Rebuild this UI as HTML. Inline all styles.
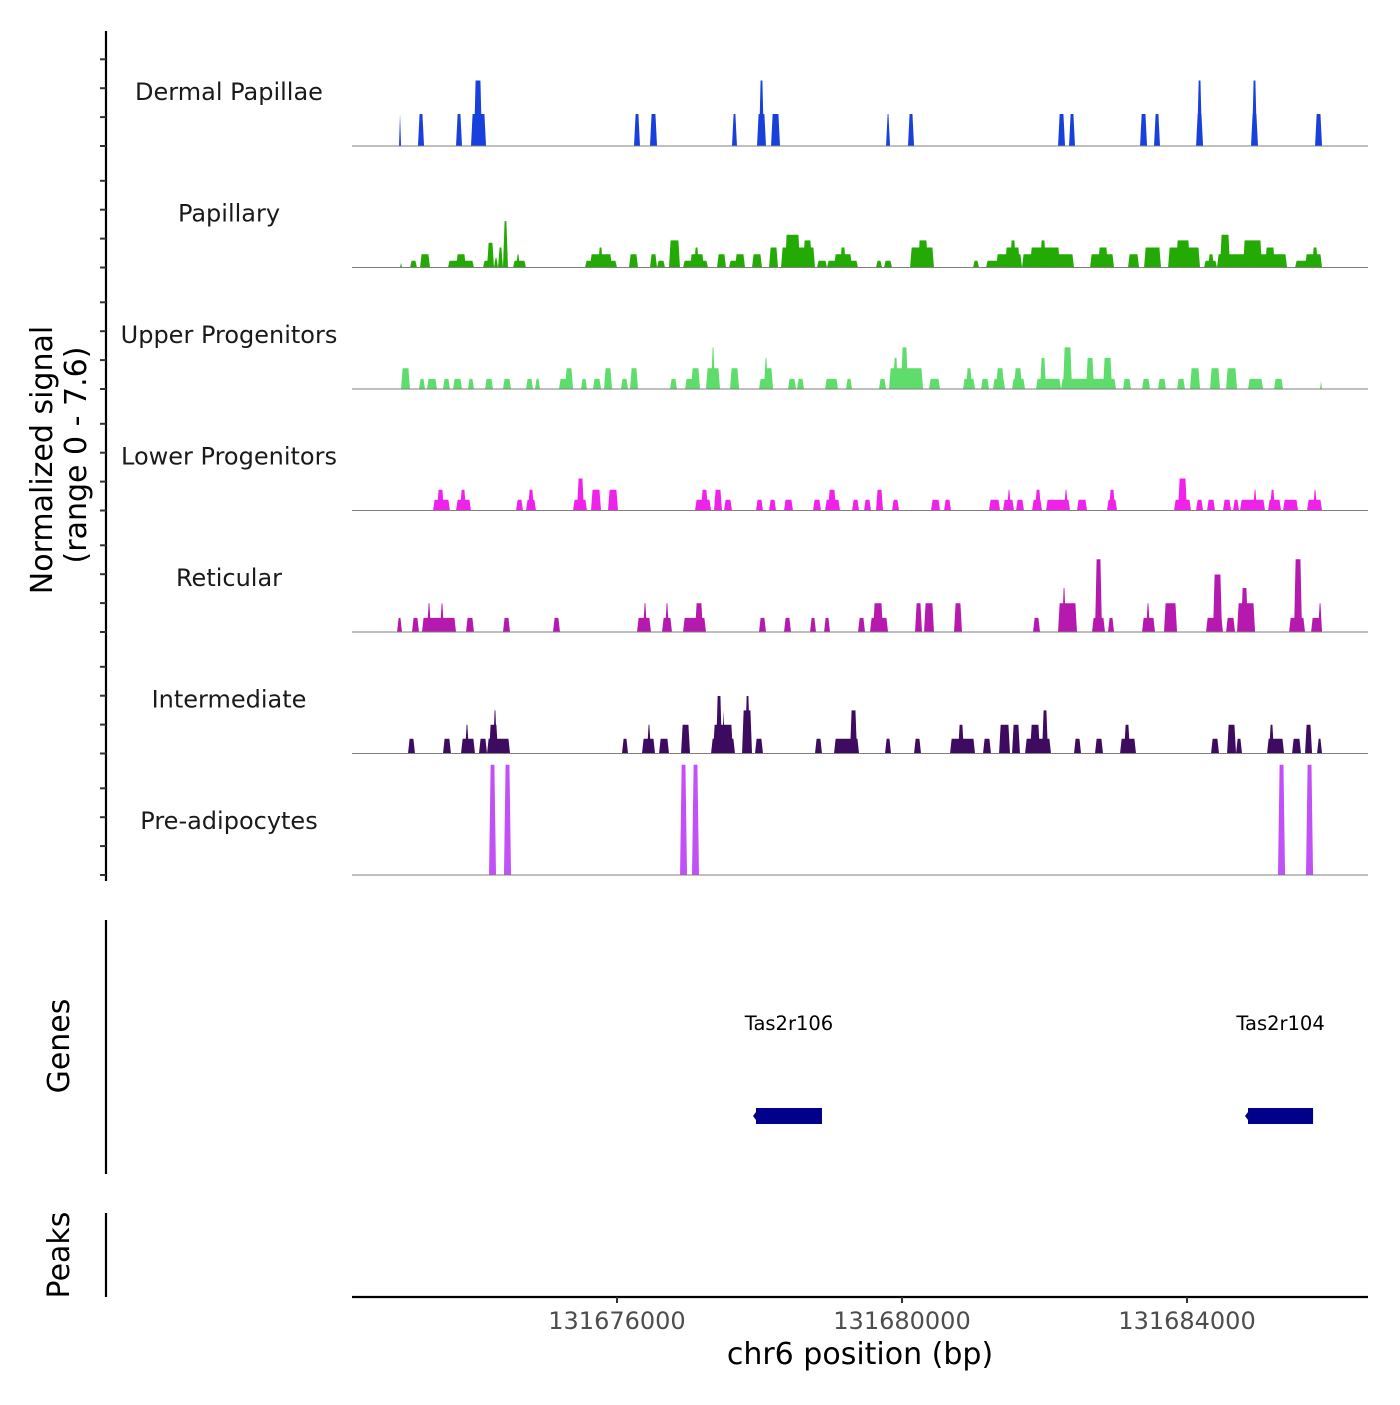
<!DOCTYPE html>
<html><head><meta charset="utf-8"><style>
html,body{margin:0;padding:0;background:#fff;}
svg text{font-family:"DejaVu Sans","Liberation Sans",sans-serif;}
</style></head><body>
<svg id="chart" width="1400" height="1400" viewBox="0 0 1400 1400" xmlns="http://www.w3.org/2000/svg">
<g id="axes">
<line x1="106" y1="31" x2="106" y2="881" stroke="#000" stroke-width="2.2"/>
<line x1="106" y1="920" x2="106" y2="1174" stroke="#000" stroke-width="2.2"/>
<line x1="106" y1="1213" x2="106" y2="1297" stroke="#000" stroke-width="2.2"/>
<line x1="352" y1="1297" x2="1368" y2="1297" stroke="#000" stroke-width="2.2"/>
<text transform="translate(52,460) rotate(-90)" text-anchor="middle" font-size="30" fill="#000">Normalized signal</text>
<text transform="translate(86,455) rotate(-90)" text-anchor="middle" font-size="30" fill="#000">(range 0 - 7.6)</text>
<text transform="translate(69,1046) rotate(-90)" text-anchor="middle" font-size="30" fill="#000">Genes</text>
<text transform="translate(69,1255) rotate(-90)" text-anchor="middle" font-size="30" fill="#000">Peaks</text>
<text x="860" y="1364" text-anchor="middle" font-size="30" fill="#000">chr6 position (bp)</text>
</g>
<g id="tracks"></g>
<g id="genes"></g>
<g id="xticks"></g>
</svg>
<script>
const trackNames = ["Dermal Papillae","Papillary","Upper Progenitors","Lower Progenitors","Reticular","Intermediate","Pre-adipocytes"];
const trackColors = ["#1740dc","#23aa05","#5edc6c","#ef22e9","#b619ad","#3d0b60","#c250f7"];
const xTicks = [131676000,131680000,131684000];
const xTickLabels = ["131676000","131680000","131684000"];
const geneNames = ["Tas2r106","Tas2r104"];
const geneStarts = [131677951,131684856];
const geneEnds = [131678877,131685769];
const dpPeaks = [[131672941,131672969,2.0],[131673207,131673292,2.0],[131673741,131673825,2.0],[131673951,131674162,2.0],[131673993,131674106,4.1],[131676239,131676323,2.0],[131676463,131676562,2.0],[131677614,131677684,2.0],[131677965,131678091,2.0],[131677993,131678063,4.1],[131678162,131678288,2.0],[131679776,131679832,2.0],[131680084,131680169,2.0],[131682190,131682288,2.0],[131682344,131682428,2.0],[131683341,131683439,2.0],[131683537,131683621,2.0],[131684127,131684225,2.0],[131684141,131684211,4.1],[131684898,131684996,2.0],[131684912,131684982,4.1],[131685797,131685895,2.0]];
const papPeaks = [[131672955,131672983,0.3],[131673095,131673193,0.42],[131673235,131673376,0.83],[131673628,131673993,0.42],[131673741,131673881,0.83],[131674120,131674218,0.42],[131674176,131674274,1.55],[131674274,131674330,0.6],[131674330,131674400,1.25],[131674400,131674470,2.9],[131674541,131674723,0.42],[131674583,131674639,0.83],[131675551,131676000,0.42],[131675621,131675930,0.83],[131675734,131675804,1.25],[131676169,131676295,0.83],[131676463,131676562,0.83],[131676562,131676674,0.42],[131676730,131676884,1.7],[131676927,131677277,0.42],[131677025,131677221,0.83],[131677081,131677151,1.25],[131677404,131677530,0.83],[131677572,131677797,0.42],[131677656,131677797,0.83],[131677895,131678035,0.83],[131678134,131678260,1.25],[131678302,131678779,1.25],[131678358,131678569,2.05],[131678611,131678737,1.7],[131678807,131678948,0.42],[131678948,131679383,0.42],[131679046,131679299,0.83],[131679130,131679214,1.25],[131679635,131679720,0.42],[131679748,131679860,0.42],[131680113,131680449,1.25],[131680225,131680365,1.7],[131680997,131681081,0.42],[131681179,131681684,0.42],[131681320,131681684,0.83],[131681446,131681656,1.25],[131681516,131681600,1.7],[131681684,131682414,0.83],[131681797,131682218,1.25],[131681937,131682021,1.7],[131682639,131682976,0.83],[131682751,131682891,1.25],[131683172,131683327,0.83],[131683397,131683635,1.25],[131683734,131684183,1.25],[131683846,131684042,1.7],[131684239,131684421,0.42],[131684295,131684379,0.83],[131684421,131685404,0.83],[131684463,131684604,2.05],[131684786,131685053,1.7],[131685095,131685235,1.25],[131685516,131685895,0.42],[131685656,131685895,0.83],[131685755,131685839,1.25]];
const upPeaks = [[131672969,131673095,1.3],[131673221,131673306,0.63],[131673334,131673474,0.63],[131673558,131673656,0.63],[131673699,131673825,0.63],[131673909,131673993,0.63],[131674148,131674260,0.63],[131674400,131674513,0.63],[131674723,131674821,0.63],[131674849,131674920,0.63],[131675186,131675383,0.63],[131675270,131675383,1.3],[131675495,131675579,0.63],[131675663,131675776,0.63],[131675818,131675930,1.3],[131676056,131676155,0.63],[131676183,131676295,1.3],[131676744,131676842,0.63],[131676955,131677165,0.63],[131677039,131677165,1.3],[131677249,131677446,1.3],[131677320,131677376,2.6],[131677586,131677713,1.3],[131677993,131678190,0.63],[131678077,131678190,1.3],[131678063,131678119,1.95],[131678400,131678513,0.63],[131678527,131678625,0.63],[131678920,131679102,0.63],[131679214,131679299,0.63],[131679677,131679776,0.63],[131679818,131680295,1.3],[131679874,131679944,1.95],[131679986,131680084,2.6],[131680379,131680534,0.63],[131680856,131681025,0.63],[131680898,131680983,1.3],[131681109,131681221,0.63],[131681277,131681446,0.63],[131681320,131681432,1.3],[131681544,131681727,0.63],[131681572,131681684,1.3],[131681881,131682232,0.63],[131681937,131682021,1.95],[131682232,131683004,0.63],[131682260,131682386,2.6],[131682583,131682695,1.95],[131682821,131682948,1.95],[131683102,131683214,0.63],[131683369,131683481,0.63],[131683593,131683705,0.63],[131683860,131683972,0.63],[131684042,131684183,1.3],[131684323,131684463,1.3],[131684548,131684702,1.3],[131684856,131685067,0.63],[131685221,131685348,0.63],[131685867,131685895,0.5]];
const lpPeaks = [[131673418,131673656,0.67],[131673474,131673572,1.3],[131673741,131673951,0.67],[131673797,131673881,1.3],[131674583,131674681,0.67],[131674723,131674863,0.67],[131674751,131674835,1.3],[131675383,131675579,0.67],[131675439,131675537,2.0],[131675635,131675776,1.3],[131675874,131676014,1.3],[131677095,131677320,0.67],[131677179,131677277,1.3],[131677362,131677474,1.3],[131677502,131677614,0.67],[131677951,131678049,0.67],[131678134,131678232,0.67],[131678344,131678470,0.67],[131678751,131678863,0.67],[131678920,131679130,0.67],[131678962,131679074,1.3],[131679299,131679397,0.67],[131679467,131679565,0.67],[131679635,131679734,1.3],[131679860,131679958,0.67],[131680407,131680534,0.67],[131680590,131680688,0.67],[131681221,131681376,0.67],[131681418,131681572,0.67],[131681474,131681530,1.3],[131681600,131681712,0.67],[131681825,131681965,0.67],[131681867,131681951,1.3],[131682021,131682358,0.67],[131682274,131682330,1.3],[131682456,131682597,0.67],[131682877,131683018,0.67],[131682905,131682990,1.3],[131683818,131684056,0.67],[131683874,131684000,2.0],[131684127,131684225,0.67],[131684281,131684393,0.67],[131684505,131684618,0.67],[131684646,131684730,0.67],[131684744,131685095,0.67],[131684927,131684983,1.3],[131685137,131685320,0.67],[131685165,131685235,1.3],[131685348,131685558,0.67],[131685684,131685895,0.67],[131685769,131685825,1.3]];
const retPeaks = [[131672913,131672983,0.88],[131673123,131673221,0.88],[131673263,131673741,0.88],[131673334,131673390,1.8],[131673516,131673572,1.8],[131673881,131673993,0.88],[131674400,131674499,0.88],[131675102,131675200,0.88],[131676281,131676477,0.88],[131676365,131676421,1.8],[131676632,131676772,0.88],[131676674,131676730,1.8],[131676927,131677249,0.88],[131677095,131677207,1.8],[131677993,131678091,0.88],[131678344,131678442,0.88],[131678709,131678793,0.88],[131678906,131678990,0.88],[131679383,131679481,0.88],[131679551,131679804,0.88],[131679593,131679734,1.8],[131680183,131680281,1.8],[131680309,131680449,1.8],[131680730,131680842,1.8],[131681839,131681937,0.88],[131682190,131682456,1.8],[131682246,131682302,2.75],[131682667,131682849,0.88],[131682709,131682807,4.55],[131682891,131682976,0.88],[131683369,131683551,0.88],[131683425,131683481,1.8],[131683677,131683860,1.8],[131684267,131684505,0.88],[131684365,131684491,3.6],[131684548,131684674,0.88],[131684702,131684955,1.8],[131684758,131684856,2.75],[131685432,131685656,0.88],[131685502,131685614,4.55],[131685741,131685895,0.88],[131685839,131685895,1.8]];
const intPeaks = [[131673067,131673165,0.92],[131673558,131673670,0.92],[131673811,131674007,0.92],[131673867,131673923,1.8],[131674063,131674176,0.92],[131674176,131674499,0.92],[131674204,131674330,1.8],[131674260,131674316,2.7],[131676070,131676155,0.92],[131676351,131676534,0.92],[131676421,131676477,1.8],[131676590,131676730,0.92],[131676899,131677025,1.8],[131677320,131677656,0.92],[131677348,131677628,1.8],[131677390,131677474,3.6],[131677474,131677516,2.7],[131677755,131677895,2.7],[131677797,131677867,3.6],[131677937,131678049,0.92],[131678779,131678877,0.92],[131679046,131679397,0.92],[131679270,131679369,2.7],[131679762,131679846,0.92],[131680169,131680267,0.92],[131680674,131681025,0.92],[131680786,131680870,1.8],[131681137,131681249,0.92],[131681362,131681516,1.8],[131681544,131681656,1.8],[131681727,131682091,0.92],[131681797,131681937,1.8],[131681965,131682049,2.7],[131682414,131682513,0.92],[131682709,131682821,0.92],[131683060,131683284,0.92],[131683116,131683200,1.8],[131684337,131684449,0.92],[131684562,131684688,1.8],[131684688,131684772,0.92],[131685123,131685362,0.92],[131685151,131685221,1.8],[131685474,131685600,0.92],[131685656,131685755,1.8],[131685825,131685895,0.92]];
const preaPeaks = [[131674204,131674302,6.9],[131674414,131674513,6.9],[131676885,131676983,6.9],[131677053,131677151,6.9],[131685277,131685376,6.9],[131685670,131685769,6.9]];
const allTracks = [dpPeaks,papPeaks,upPeaks,lpPeaks,retPeaks,intPeaks,preaPeaks];

const NS = "http://www.w3.org/2000/svg";
const xMin = 131672281, xMax = 131686540, pxL = 352, pxR = 1368;
function xScale(bp){ return pxL + (bp - xMin) / (xMax - xMin) * (pxR - pxL); }
const trackTop = 24.5, trackH = 121.5, yMaxVal = 7.6;
function baseY(i){ return trackTop + trackH * (i + 1); }
function yScale(i, v){ return baseY(i) - v / yMaxVal * trackH; }

const tracksG = document.getElementById('tracks');
const axesG = document.getElementById('axes');
for (let i = 0; i < trackNames.length; i++) {
  const g = document.createElementNS(NS, 'g');
  
  
  tracksG.appendChild(g);
  const lbl = document.createElementNS(NS, 'text');
  
  
  lbl.setAttribute('x', 229);
  lbl.setAttribute('y', baseY(i) - 46);
  lbl.setAttribute('text-anchor', 'middle');
  lbl.setAttribute('font-size', '24');
  lbl.setAttribute('fill', '#1a1a1a');
  lbl.textContent = trackNames[i];
  g.appendChild(lbl);
  const peaks = allTracks[i];
  for (const pk of peaks) {
    const x1 = xScale(pk[0]), x2 = xScale(pk[1]);
    const r = Math.min(1.6, (x2 - x1) / 2);
    const b = baseY(i), t = yScale(i, pk[2]);
    const p = document.createElementNS(NS, 'polygon');
    
    
    p.setAttribute('points', `${x1},${b} ${x1 + r},${t} ${x2 - r},${t} ${x2},${b}`);
    p.setAttribute('fill', trackColors[i]);
    g.appendChild(p);
  }
  const bl = document.createElementNS(NS, 'line');
  
  
  bl.setAttribute('x1', pxL); bl.setAttribute('x2', pxR);
  bl.setAttribute('y1', baseY(i)); bl.setAttribute('y2', baseY(i));
  bl.setAttribute('stroke', '#7f7f7f'); bl.setAttribute('stroke-width', '1');
  g.appendChild(bl);
  for (let k = 0; k < 4; k++) {
    const ty = baseY(i) - k * 28.9;
    const tk = document.createElementNS(NS, 'line');
    
    
    tk.setAttribute('x1', 100); tk.setAttribute('x2', 106);
    tk.setAttribute('y1', ty); tk.setAttribute('y2', ty);
    tk.setAttribute('stroke', '#333'); tk.setAttribute('stroke-width', '2');
    axesG.appendChild(tk);
  }
}
const genesG = document.getElementById('genes');
for (let j = 0; j < geneNames.length; j++) {
  const x1 = xScale(geneStarts[j]), x2 = xScale(geneEnds[j]);
  const r = document.createElementNS(NS, 'rect');
  
  
  r.setAttribute('x', x1); r.setAttribute('y', 1108);
  r.setAttribute('width', x2 - x1); r.setAttribute('height', 16);
  r.setAttribute('fill', '#00008b');
  genesG.appendChild(r);
  const a = document.createElementNS(NS, 'polygon');
  
  
  a.setAttribute('points', `${x1 - 3},1116 ${x1},1112 ${x1},1120`);
  a.setAttribute('fill', '#00008b');
  genesG.appendChild(a);
  const t = document.createElementNS(NS, 'text');
  
  
  t.setAttribute('x', (x1 + x2) / 2); t.setAttribute('y', 1030);
  t.setAttribute('text-anchor', 'middle'); t.setAttribute('font-size', '19.5');
  t.setAttribute('fill', '#000');
  t.textContent = geneNames[j];
  genesG.appendChild(t);
}
const xtG = document.getElementById('xticks');
for (let k = 0; k < xTicks.length; k++) {
  const x = xScale(xTicks[k]);
  const tk = document.createElementNS(NS, 'line');
  
  
  tk.setAttribute('x1', x); tk.setAttribute('x2', x);
  tk.setAttribute('y1', 1297); tk.setAttribute('y2', 1303);
  tk.setAttribute('stroke', '#333'); tk.setAttribute('stroke-width', '2');
  xtG.appendChild(tk);
  const t = document.createElementNS(NS, 'text');
  
  
  t.setAttribute('x', x); t.setAttribute('y', 1329);
  t.setAttribute('text-anchor', 'middle'); t.setAttribute('font-size', '24');
  t.setAttribute('fill', '#4d4d4d');
  t.textContent = xTickLabels[k];
  xtG.appendChild(t);
}
</script>
</body></html>
